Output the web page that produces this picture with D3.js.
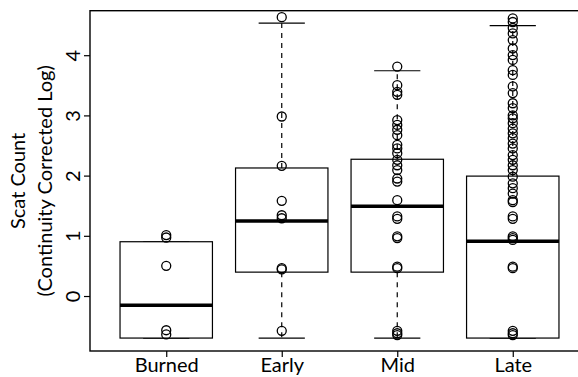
<!DOCTYPE html>
<html><head><meta charset="utf-8">
<script src="https://cdn.jsdelivr.net/npm/d3@7"></script>
<style>html,body{margin:0;padding:0;background:#fff;overflow:hidden}</style>
</head><body>
<svg id="chart" width="578" height="377"></svg>
<script>
const categories = ["Burned", "Early", "Mid", "Late"];
const whiskerLow  = [-0.69, -0.69, -0.69, -0.69];
const q1          = [-0.69, 0.405, 0.405, -0.69];
const medians     = [-0.145, 1.253, 1.50, 0.92];
const q3          = [0.91, 2.135, 2.28, 2.0];
const whiskerHigh = [0.91, 4.54, 3.75, 4.50];
const burnedPoints = [1.02, 0.98, 0.51, -0.56, -0.63];
const earlyPoints = [4.64, 2.99, 2.17, 1.59, 1.35, 1.30, 0.47, 0.45, -0.57];
const midPoints = [3.82, 3.51, 3.40, 3.35, 2.93, 2.85, 2.77, 2.68, 2.52, 2.46, 2.38, 2.27, 2.18, 2.10,
  1.96, 1.91, 1.60, 1.33, 1.29, 1.00, 0.97, 0.495, 0.47, -0.57, -0.61, -0.64];
const latePoints = [4.62, 4.56, 4.46, 4.37, 4.26, 4.12, 4.01, 3.93, 3.76, 3.68, 3.49, 3.38, 3.21, 3.13,
  3.01, 2.96, 2.88, 2.79, 2.71, 2.63, 2.54, 2.46, 2.35, 2.27, 2.18, 2.10, 1.99, 1.88, 1.80, 1.71,
  1.60, 1.57, 1.33, 1.29, 1.00, 0.97, 0.94, 0.495, 0.47, -0.57, -0.61, -0.64];
const yTicks = [0, 1, 2, 3, 4];
const yTitle = ["Scat Count", "(Continuity Corrected Log)"];

(function () {
const pointSets = [burnedPoints, earlyPoints, midPoints, latePoints];
const svg = d3.select("#chart");
const font = "Lato, 'Open Sans', sans-serif";
const pLeft = 90, pTop = 10.7, pBottom = 351, pRight = 589;

const x = d3.scaleLinear().domain([0.34, 4.66]).range([pLeft, pRight]);
const y = d3.scaleLinear().domain([-0.905, 4.7475]).range([pBottom, pTop]);
const boxW = x(0.8) - x(0), stapleW = x(0.4) - x(0);

// frame
svg.append("rect").attr("x", pLeft).attr("y", pTop).attr("width", pRight - pLeft).attr("height", pBottom - pTop)
  .attr("fill", "none").attr("stroke", "#000").attr("stroke-width", 1.4);

// y axis
const yAxis = svg.append("g").attr("transform", `translate(${pLeft},0)`)
  .call(d3.axisLeft(y).tickValues(yTicks).tickSize(6).tickFormat(d3.format("d")));
yAxis.select(".domain").remove();
yAxis.selectAll("line").attr("stroke", "#000").attr("stroke-width", 1.2);
yAxis.selectAll(".tick").attr("transform", null);
yAxis.selectAll(".tick line").attr("y1", d => y(d)).attr("y2", d => y(d));
yAxis.selectAll("text").attr("font-family", font).attr("font-size", 20).attr("fill", "#000")
  .attr("transform", d => `translate(-10.5,${y(d)}) rotate(-90)`)
  .attr("x", 0).attr("y", 0).attr("dy", 0).attr("text-anchor", "middle");

// x axis
const xAxis = svg.append("g").attr("transform", `translate(0,${pBottom})`)
  .call(d3.axisBottom(x).tickValues([1, 2, 3, 4]).tickSize(6).tickFormat((d, i) => categories[i]));
xAxis.select(".domain").remove();
xAxis.selectAll("line").attr("stroke", "#000").attr("stroke-width", 1.2);
xAxis.selectAll("text").attr("font-family", font).attr("font-size", 20).attr("fill", "#000")
  .attr("y", 21).attr("dy", 0);

// y title
yTitle.forEach((t, i) => {
  svg.append("text").attr("font-family", font).attr("font-size", 20).attr("fill", "#000")
    .attr("text-anchor", "middle")
    .attr("transform", `translate(${25 + i * 27},${(pTop + pBottom) / 2}) rotate(-90)`)
    .text(t);
});

// boxes
const g = svg.append("g");
categories.forEach((c, i) => {
  const cx = x(i + 1);
  if (whiskerHigh[i] > q3[i]) {
    g.append("line").attr("x1", cx).attr("x2", cx).attr("y1", y(q3[i])).attr("y2", y(whiskerHigh[i]))
      .attr("stroke", "#000").attr("stroke-width", 1.2).attr("stroke-dasharray", "5,5");
  }
  if (whiskerLow[i] < q1[i]) {
    g.append("line").attr("x1", cx).attr("x2", cx).attr("y1", y(q1[i])).attr("y2", y(whiskerLow[i]))
      .attr("stroke", "#000").attr("stroke-width", 1.2).attr("stroke-dasharray", "5,5");
  }
  [whiskerLow[i], whiskerHigh[i]].forEach(v => {
    g.append("line").attr("x1", cx - stapleW / 2).attr("x2", cx + stapleW / 2).attr("y1", y(v)).attr("y2", y(v))
      .attr("stroke", "#000").attr("stroke-width", 1.2);
  });
  g.append("rect").attr("x", cx - boxW / 2).attr("width", boxW)
    .attr("y", y(q3[i])).attr("height", y(q1[i]) - y(q3[i]))
    .attr("fill", "#fff").attr("stroke", "#000").attr("stroke-width", 1.2);
  g.append("line").attr("x1", cx - boxW / 2).attr("x2", cx + boxW / 2)
    .attr("y1", y(medians[i])).attr("y2", y(medians[i]))
    .attr("stroke", "#000").attr("stroke-width", 3.5);
});

// points
pointSets.forEach((pts, i) => {
  g.selectAll(null).data(pts).enter().append("circle")
    .attr("cx", x(i + 1)).attr("cy", d => y(d)).attr("r", 4.5)
    .attr("fill", "none").attr("stroke", "#000").attr("stroke-width", 1.3);
});
})();
</script>
</body></html>
